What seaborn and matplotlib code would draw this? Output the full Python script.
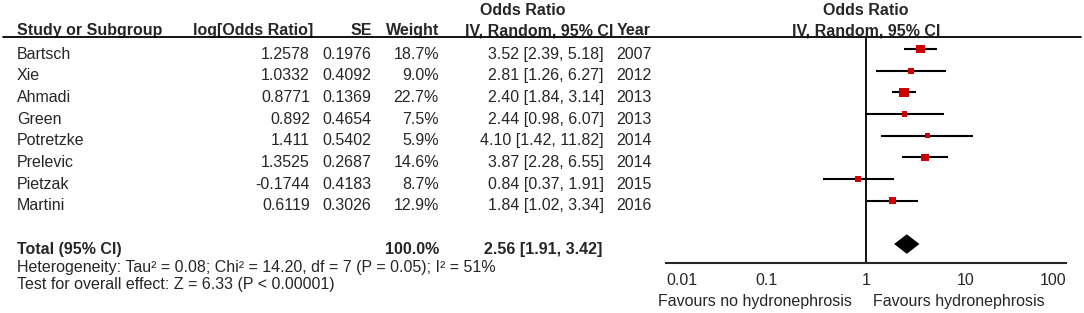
import numpy as np
import pandas as pd
import seaborn as sns
import matplotlib.pyplot as plt
import matplotlib.transforms as mtransforms
from matplotlib.lines import Line2D

# Study data
studies = ['Bartsch', 'Xie', 'Ahmadi', 'Green', 'Potretzke', 'Prelevic', 'Pietzak', 'Martini']
log_or = [1.2578, 1.0332, 0.8771, 0.892, 1.411, 1.3525, -0.1744, 0.6119]
se = [0.1976, 0.4092, 0.1369, 0.4654, 0.5402, 0.2687, 0.4183, 0.3026]
weight = [18.7, 9.0, 22.7, 7.5, 5.9, 14.6, 8.7, 12.9]
odds = [3.52, 2.81, 2.40, 2.44, 4.10, 3.87, 0.84, 1.84]
ci_low = [2.39, 1.26, 1.84, 0.98, 1.42, 2.28, 0.37, 1.02]
ci_high = [5.18, 6.27, 3.14, 6.07, 11.82, 6.55, 1.91, 3.34]
years = [2007, 2012, 2013, 2013, 2014, 2014, 2015, 2016]

total_weight = 100.0
total_or, total_low, total_high = 2.56, 1.91, 3.42
heterogeneity = 'Heterogeneity: Tau² = 0.08; Chi² = 14.20, df = 7 (P = 0.05); I² = 51%'
overall = 'Test for overall effect: Z = 6.33 (P < 0.00001)'

tick_vals = [0.01, 0.1, 1, 10, 100]
tick_labels = ['0.01', '0.1', '1', '10', '100']

df = pd.DataFrame({'study': studies, 'log_or': log_or, 'se': se, 'weight': weight,
                   'or': odds, 'lo': ci_low, 'hi': ci_high, 'year': years})
df['row'] = np.arange(len(df))
total_row = len(df) + 1

sns.set_style('white')
plt.rcParams['font.family'] = ['Liberation Sans', 'DejaVu Sans']
FS = 11.5

W, H = 1084, 313
fig = plt.figure(figsize=(W / 100, H / 100), dpi=100)
ax = fig.add_axes([666 / W, 1 - 263 / H, 400 / W, 226 / H])

# confidence intervals, then weighted squares on top
ax.hlines(df['row'], df['lo'], df['hi'], color='black', lw=1.5, zorder=2)
area = 2.1
sns.scatterplot(data=df, x='or', y='row', size='weight', marker='s', color='#CC0000',
                sizes=(area * min(weight), area * max(weight)),
                size_norm=(min(weight), max(weight)), linewidth=0, legend=False,
                ax=ax, zorder=3)

# pooled diamond
half = 0.45
ax.fill([total_low, total_or, total_high, total_or],
        [total_row, total_row - half, total_row, total_row + half], color='black', lw=0)

ax.axvline(1, color='black', lw=1.3, zorder=1)
ax.set_xscale('log')
ax.set_xlim(0.01, 100)
ax.set_ylim(9.875, -0.554)
ax.set_xlabel('')
ax.set_ylabel('')
ax.set_yticks([])
ax.set_xticks(tick_vals)
ax.set_xticklabels(tick_labels)
ax.xaxis.set_minor_locator(plt.NullLocator())
for s in ['top', 'left', 'right']:
    ax.spines[s].set_visible(False)
ax.spines['bottom'].set_linewidth(1.5)
ax.tick_params(axis='x', direction='inout', length=8, width=1.5, pad=3, labelsize=FS)
labels = ax.get_xticklabels()
labels[0].set_horizontalalignment('left')
labels[-1].set_horizontalalignment('right')
ax.patch.set_alpha(0)

# header rule across the whole figure
fig.add_artist(Line2D([3 / W, 1081 / W], [1 - 37 / H, 1 - 37 / H], color='black', lw=1.3))

tr = mtransforms.blended_transform_factory(fig.transFigure, ax.transData)
base = 0.45  # text baseline below marker centre (in rows)


def put(px, row, s, ha='left', bold=False):
    ax.text(px / W, row + base, s, transform=tr, ha=ha, va='baseline',
            fontweight='bold' if bold else 'normal', fontsize=FS, clip_on=False)


# header
hdr = -0.646 - base
put(17, hdr, 'Study or Subgroup', bold=True)
put(313, hdr, 'log[Odds Ratio]', ha='right', bold=True)
put(372, hdr, 'SE', ha='right', bold=True)
put(439, hdr, 'Weight', ha='right', bold=True)
put(613, hdr, 'IV, Random, 95% CI', ha='right', bold=True)
put(617, hdr, 'Year', bold=True)
put(523, -1.57 - base, 'Odds Ratio', ha='center', bold=True)
ax.text(1, -1.57, 'Odds Ratio', ha='center', va='baseline', fontweight='bold',
        fontsize=FS, clip_on=False)
ax.text(1, -0.646, 'IV, Random, 95% CI', ha='center', va='baseline', fontweight='bold',
        fontsize=FS, clip_on=False)

# study rows
for _, r in df.iterrows():
    put(17, r['row'], r['study'])
    put(310, r['row'], str(r['log_or']), ha='right')
    put(371, r['row'], str(r['se']), ha='right')
    put(439, r['row'], f"{r['weight']:.1f}%", ha='right')
    put(604, r['row'], f"{r['or']:.2f} [{r['lo']:.2f}, {r['hi']:.2f}]", ha='right')
    put(616, r['row'], str(r['year']))

# total and notes
put(17, total_row, 'Total (95% CI)', bold=True)
put(439, total_row, f'{total_weight:.1f}%', ha='right', bold=True)
put(602, total_row, f'{total_or:.2f} [{total_low:.2f}, {total_high:.2f}]', ha='right', bold=True)
put(17, 10.3 - base, heterogeneity)
put(17, 11.08 - base, overall)

ax.text(0.72, 11.86, 'Favours no hydronephrosis', ha='right', va='baseline',
        fontsize=FS, clip_on=False)
ax.text(1.17, 11.86, 'Favours hydronephrosis', ha='left', va='baseline',
        fontsize=FS, clip_on=False)

fig.savefig('out.png', dpi=100)
